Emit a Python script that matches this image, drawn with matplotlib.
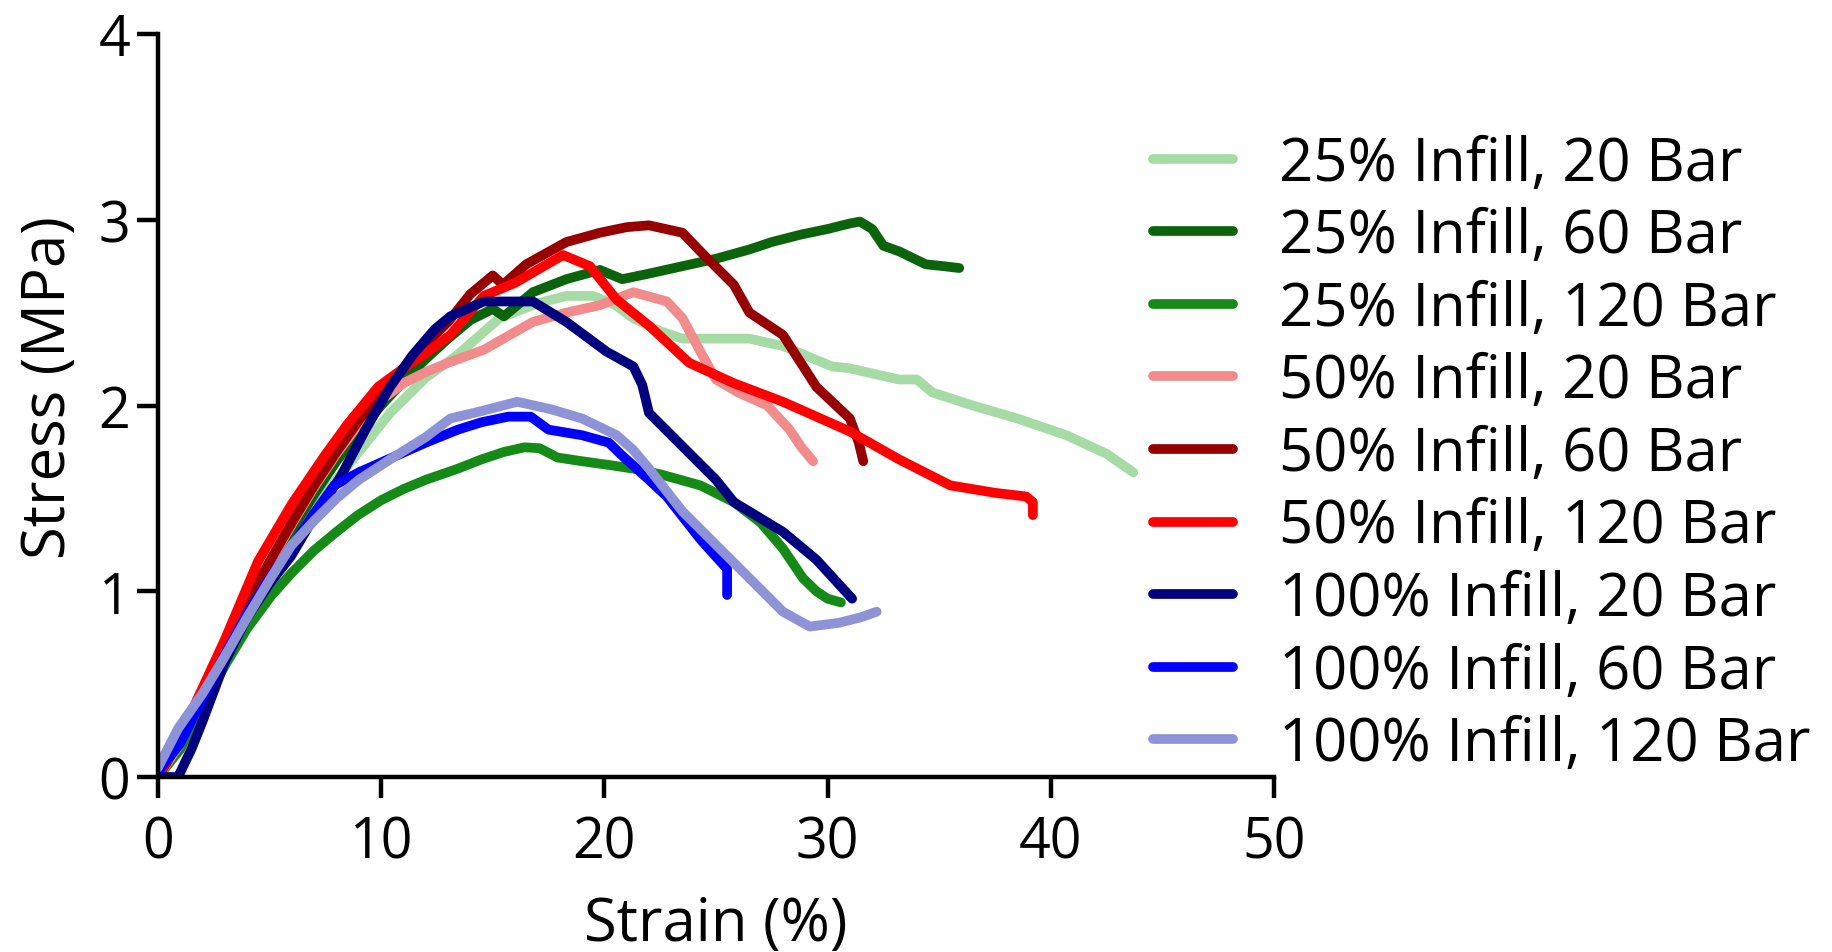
import matplotlib
matplotlib.use("Agg")
import matplotlib.pyplot as plt

plt.rcParams['font.family'] = ['Open Sans', 'DejaVu Sans']

# strain (%) / stress (MPa)
s25_20_x = [0, 1, 2, 3, 4, 5, 6, 7, 8, 9, 10.4, 12, 13.4, 15.3, 17, 18.3, 19.5, 20.5, 21.3, 22.5, 23.5, 25, 26.5,
            28, 29, 30.2, 31, 33.2, 34.0, 34.7, 36.5, 38.5, 40.7, 42.5, 43.7]
s25_20_y = [0, 0.15, 0.38, 0.62, 0.84, 1.05, 1.25, 1.44, 1.6, 1.75, 1.96, 2.15, 2.27, 2.47, 2.55, 2.59, 2.59, 2.54,
            2.47, 2.4, 2.36, 2.36, 2.36, 2.32, 2.27, 2.21, 2.2, 2.14, 2.14, 2.07, 2.0, 1.93, 1.84, 1.74, 1.64]

s25_60_x = [0, 1, 2, 3, 4, 5, 6, 7, 8, 9, 10, 11, 12, 13, 14, 15.0, 15.5, 16.8, 18.3, 19.8, 20.8, 22, 23.5, 25,
            26.5, 27.5, 28.8, 30, 31.0, 31.45, 32.0, 32.5, 33.2, 34.4, 35.2, 35.9]
s25_60_y = [0, 0.18, 0.42, 0.66, 0.9, 1.12, 1.33, 1.52, 1.7, 1.86, 2.0, 2.13, 2.25, 2.36, 2.46, 2.52, 2.48, 2.61,
            2.68, 2.73, 2.68, 2.71, 2.75, 2.79, 2.84, 2.88, 2.92, 2.95, 2.98, 2.99, 2.95, 2.86, 2.83, 2.76, 2.75, 2.74]

s25_120_x = [0, 1, 2, 3, 4, 5.08, 6, 7, 8, 8.96, 10, 11, 12, 13.44, 14.5, 15.5, 16.43, 17.1, 17.9, 19, 20.2, 21.3,
             22.5, 24.3, 25.8, 27, 28.0, 28.9, 29.5, 30, 30.6]
s25_120_y = [0, 0.15, 0.38, 0.6, 0.8, 0.976, 1.1, 1.22, 1.32, 1.41, 1.49, 1.55, 1.6, 1.66, 1.71, 1.75, 1.775, 1.77,
             1.72, 1.7, 1.68, 1.66, 1.63, 1.57, 1.48, 1.37, 1.23, 1.07, 1.0, 0.96, 0.94]

s50_20_x = [0, 1, 2, 3, 4, 5, 6, 7, 8, 9, 10, 11, 12, 13, 14.6, 16.8, 18.3, 19.8, 21.3, 22.8, 23.5, 24.3, 25.0, 26,
            27.3, 28.3, 28.8, 29.35]
s50_20_y = [0, 0.18, 0.43, 0.68, 0.92, 1.15, 1.36, 1.56, 1.74, 1.9, 2.03, 2.12, 2.18, 2.23, 2.3, 2.45, 2.5, 2.54,
            2.61, 2.56, 2.47, 2.29, 2.14, 2.07, 2.0, 1.87, 1.78, 1.70]

s50_60_x = [0, 1, 2, 3, 4, 5, 6, 7, 8, 9, 10, 11, 12, 13, 14, 15.0, 15.46, 16.5, 18.3, 19.8, 21, 22.0, 23.5, 24.3,
            25.8, 26.5, 28.0, 29.5, 31.0, 31.4, 31.6]
s50_60_y = [0, 0.2, 0.45, 0.7, 0.94, 1.16, 1.37, 1.57, 1.75, 1.92, 2.07, 2.2, 2.33, 2.45, 2.6, 2.70, 2.65, 2.76,
            2.88, 2.93, 2.96, 2.97, 2.93, 2.83, 2.65, 2.5, 2.38, 2.1, 1.93, 1.8, 1.70]

s50_120_x = [0, 1, 2, 3, 4.48, 6, 7.47, 8.5, 9.86, 11, 12, 13.1, 14.6, 16, 17, 18.15, 19.35, 20.55, 22.0, 23.8,
             25.8, 28.0, 29.5, 31.0, 33.2, 35.5, 37.5, 38.9, 39.2, 39.2]
s50_120_y = [0, 0.22, 0.48, 0.74, 1.16, 1.47, 1.73, 1.9, 2.1, 2.2, 2.28, 2.38, 2.59, 2.66, 2.73, 2.81, 2.75, 2.57,
             2.43, 2.23, 2.12, 2.02, 1.94, 1.86, 1.71, 1.57, 1.53, 1.51, 1.48, 1.41]

s100_20_x = [0, 0.9, 1.5, 2, 3.0, 4, 5, 5.97, 7, 8.2, 9.3, 10.4, 11.4, 12.4, 13.1, 14.6, 16.8, 18.3, 20.1, 21.3,
             21.7, 22.0, 23.5, 25.0, 25.8, 28.0, 29.5, 31.1]
s100_20_y = [0, 0, 0.15, 0.3, 0.62, 0.86, 1.04, 1.19, 1.4, 1.62, 1.87, 2.1, 2.27, 2.41, 2.48, 2.56, 2.56, 2.45,
             2.29, 2.21, 2.11, 1.96, 1.78, 1.60, 1.48, 1.32, 1.17, 0.96]

s100_60_x = [0, 1, 2, 3, 4, 5, 6, 7, 7.9, 9, 10.5, 12, 13.44, 14.5, 15.7, 16.7, 17.5, 19.0, 20.2, 20.8, 22, 22.8,
             24.3, 25.5, 25.5]
s100_60_y = [0.03, 0.18, 0.42, 0.66, 0.88, 1.07, 1.24, 1.42, 1.57, 1.64, 1.72, 1.8, 1.87, 1.91, 1.94, 1.94, 1.87,
             1.84, 1.8, 1.73, 1.6, 1.51, 1.28, 1.12, 0.98]

s100_120_x = [0, 0.9, 2, 3, 4, 5, 5.97, 7, 8, 9, 10.4, 12, 13.1, 14.5, 16.1, 17.6, 19, 20.55, 21.3, 22.0, 23.5,
              25.0, 26.5, 28.0, 29.2, 30.5, 31.5, 32.2]
s100_120_y = [0.05, 0.26, 0.45, 0.65, 0.86, 1.06, 1.245, 1.38, 1.5, 1.6, 1.71, 1.83, 1.93, 1.97, 2.02, 1.98, 1.93,
              1.84, 1.76, 1.66, 1.43, 1.25, 1.07, 0.89, 0.81, 0.83, 0.86, 0.89]

series = [
    ("25% Infill, 20 Bar", s25_20_x, s25_20_y, "#a6dba6"),
    ("25% Infill, 60 Bar", s25_60_x, s25_60_y, "#0b640b"),
    ("25% Infill, 120 Bar", s25_120_x, s25_120_y, "#168a16"),
    ("50% Infill, 20 Bar", s50_20_x, s50_20_y, "#f28c8c"),
    ("50% Infill, 60 Bar", s50_60_x, s50_60_y, "#960000"),
    ("50% Infill, 120 Bar", s50_120_x, s50_120_y, "#ff0000"),
    ("100% Infill, 20 Bar", s100_20_x, s100_20_y, "#00007e"),
    ("100% Infill, 60 Bar", s100_60_x, s100_60_y, "#0000ff"),
    ("100% Infill, 120 Bar", s100_120_x, s100_120_y, "#8e93d8"),
]

fig = plt.figure(figsize=(18.32, 9.53), dpi=100)
ax = fig.add_axes([0.0862, 0.1836, 0.6092, 0.7797])

for label, x, y, c in series:
    ax.plot(x, y, color=c, lw=7, label=label, solid_capstyle='round', solid_joinstyle='round')

ax.set_xlim(0, 50)
ax.set_ylim(0, 4)
ax.set_xticks([0, 10, 20, 30, 40, 50])
ax.set_yticks([0, 1, 2, 3, 4])
ax.spines['top'].set_visible(False)
ax.spines['right'].set_visible(False)
for sp in ['left', 'bottom']:
    ax.spines[sp].set_linewidth(3.2)
ax.tick_params(width=3.2, length=15, labelsize=40)
ax.tick_params(axis='x', pad=12)
ax.tick_params(axis='y', pad=5)
ax.set_xlabel("Strain (%)", fontsize=43, labelpad=16)
ax.set_ylabel("Stress (MPa)", fontsize=43)
ax.yaxis.set_label_coords(-0.0705, 0.526)

ax.legend(loc='upper left', bbox_to_anchor=(0.6, 0.915), bbox_transform=fig.transFigure,
          frameon=False, fontsize=43, handlelength=1.34, handletextpad=0.77, labelspacing=0.21)

fig.savefig("out.png", dpi=100)
